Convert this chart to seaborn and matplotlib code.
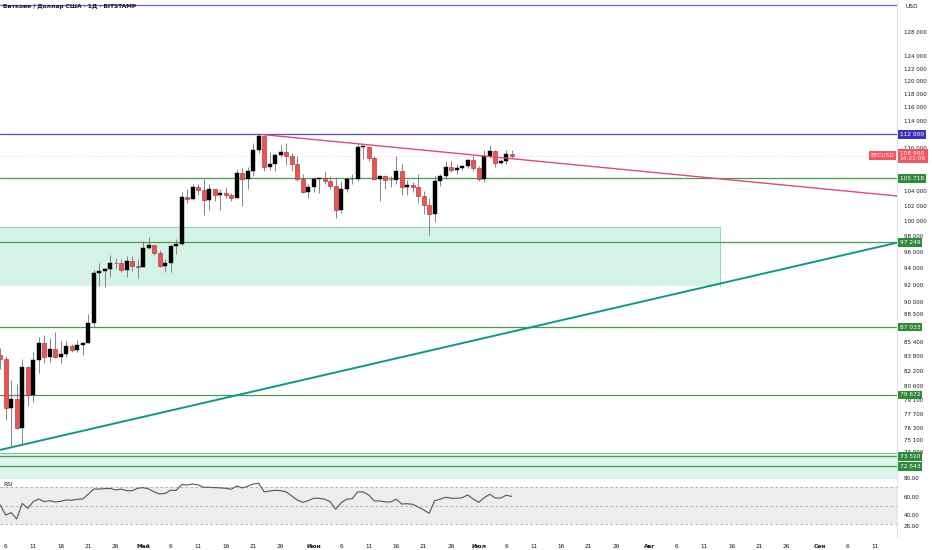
import numpy as np
import pandas as pd
import matplotlib
matplotlib.use("Agg")
import matplotlib.pyplot as plt
import matplotlib.dates as mdates
from matplotlib.ticker import FixedLocator, NullLocator, FuncFormatter
import seaborn as sns

# --- DATA: BTCUSD daily candles, Bitstamp (5 Apr - 7 Jul 2025) ---
dates = pd.date_range("2025-04-05", "2025-07-07", freq="D")
opens = [83900, 83500, 78300, 79200, 76300, 82600, 79600, 83400, 85300, 83700,
         84600, 83700, 84000, 84900, 84450, 85050, 85200, 87500, 93400, 93700,
         93950, 94700, 94600, 93800, 94950, 94300,
         94200, 96500, 96900, 95900, 94300, 94700, 96800, 97000, 103200, 102900,
         104600, 104100, 102800, 104200, 103500, 103700, 103500, 103100, 106500, 105600,
         106800, 109700, 111700, 107300, 107800, 109000, 109400, 108900, 107800, 105600,
         103900,
         104600, 105700, 105800, 105400, 104700, 101500, 104300, 105600, 105700, 110200,
         110200, 108600, 105700, 106100, 105500, 105500, 106800, 104600, 104800, 104600,
         103300, 102100, 100900, 105400, 106000, 107300, 106900, 107100, 107400, 108300,
         107100, 105700, 108800, 109600, 107900, 108200, 109200]
highs = [84700, 83800, 81200, 80800, 83500, 82700, 84300, 85900, 86100, 85800,
         86500, 85500, 85500, 85100, 85600, 85350, 88500, 93800, 94600, 94000,
         95700, 95300, 95200, 95500, 95500, 95200,
         97400, 97900, 96900, 96300, 95200, 96900, 97700, 103800, 104300, 104900,
         104900, 105700, 104900, 104300, 104200, 104500, 103700, 107000, 107100, 107300,
         110800, 112000, 111900, 109500, 109300, 110400, 110700, 109300, 108900, 106300,
         104900,
         105900, 105900, 106800, 106000, 105900, 105300, 105900, 106400, 110600, 110400,
         110300, 108900, 106200, 106200, 106100, 108900, 107700, 105500, 105200, 106300,
         104000, 103000, 106000, 106300, 108100, 108200, 107800, 107600, 108500, 108800,
         107500, 109700, 110500, 109700, 108400, 109700, 109700]
lows = [82400, 77100, 74500, 76200, 74600, 78500, 78900, 82000, 83000, 83200,
        83600, 83100, 83700, 84300, 84300, 83900, 85200, 87000, 91900, 91700,
        92900, 93900, 93600, 92900, 93700, 92800,
        94100, 96400, 95700, 94100, 93500, 93600, 95800, 96900, 102400, 102800,
        103400, 100800, 101500, 102600, 101400, 103100, 102600, 103000, 102000, 104200,
        106100, 109300, 106800, 106900, 106700, 108700, 107600, 106800, 105400, 103700,
        103100,
        103900, 103700, 104900, 104200, 100400, 101100, 103900, 104900, 105300, 108400,
        108200, 105500, 102700, 104300, 104500, 104900, 103400, 103500, 103900, 102400,
        100900, 98200, 99800, 104700, 105600, 106600, 106400, 106900, 107200, 106700,
        105300, 105200, 108600, 107300, 107800, 107800, 108600]
closes = [83500, 78300, 79200, 76300, 82600, 79600, 83400, 85300, 83700, 84600,
          83700, 84000, 84900, 84450, 85050, 85200, 87500, 93400, 93700, 93950,
          94700, 94600, 93800, 94950, 94300, 94200,
          96500, 96900, 95900, 94300, 94700, 96800, 97000, 103200, 102900, 104600,
          104100, 102800, 104200, 103500, 103700, 103500, 103100, 106500, 105600, 106800,
          109700, 111700, 107300, 107800, 109000, 109400, 108900, 107800, 105600, 103900,
          104600,
          105700, 105800, 105400, 104700, 101500, 104300, 105600, 105700, 110200, 110200,
          108600, 105700, 106100, 105500, 105500, 106800, 104600, 104800, 104600, 103300,
          102100, 100900, 105400, 106000, 107300, 106900, 107100, 107400, 108300, 107100,
          105700, 108800, 109600, 107900, 108200, 109200, 108900]

# RSI(14)
rsi = [50.7, 39.8, 42.3, 35.4, 52.5, 47.0, 54.3, 57.2, 54.3, 55.4,
       54.0, 54.7, 56.2, 55.8, 56.9, 57.2, 62.4, 68.1, 68.1, 68.5,
       68.8, 67.0, 68.0, 66.3, 66.3, 68.9,
       69.6, 68.1, 64.9, 62.7, 63.4, 66.7, 66.7, 72.9, 72.5, 73.6,
       72.5, 70.0, 70.0, 69.6, 69.3, 68.9, 67.8, 71.4, 69.3, 71.0,
       73.6, 74.3, 64.9, 65.9, 66.7, 66.3, 64.9, 60.5, 56.2, 53.6,
       55.4,
       58.0, 58.0, 57.0, 54.3, 46.0, 53.2, 57.0, 57.6, 64.9, 64.9,
       61.6, 55.1, 55.1, 54.0, 54.0, 57.0, 51.8, 52.1, 51.4, 48.5,
       45.3, 41.6, 55.4, 57.0, 59.1, 58.0, 58.0, 58.7, 61.6, 57.2,
       53.6, 58.7, 62.4, 58.3, 58.3, 61.3, 60.1]

# drawn levels
green_levels = [105718, 97249, 87033, 79672, 73510, 72543]
purple_level = 112000
top_level = 132600
last_price = 108900
last_time = "14:21:06"

# trend lines (dates, prices)
pink_dates = ["2025-05-22 19:00", "2025-09-16 00:00"]
pink_prices = [111950, 103250]
teal_dates = ["2025-04-04 23:00", "2025-09-16 00:00"]
teal_prices = [74130, 97350]

# demand zone
zone_dates = ["2025-04-01 00:00", "2025-08-13 21:00"]
zone_low, zone_high = 91850, 99220
band_low, band_high = 70000, 73850

price_ticks = [128000, 124000, 122000, 120000, 118000, 116000, 114000, 110000,
               104000, 102000, 100000, 98000, 96000, 94000, 92000, 90000, 88500,
               85400, 83800, 82200, 80600, 79100, 77700, 76300, 75100, 73900]
rsi_ticks = [80, 60, 40, 28]

tick_dates = ["2025-04-06", "2025-04-11", "2025-04-16", "2025-04-21", "2025-04-26",
              "2025-05-01", "2025-05-06", "2025-05-11", "2025-05-16", "2025-05-21",
              "2025-05-26", "2025-06-01", "2025-06-06", "2025-06-11", "2025-06-16",
              "2025-06-21", "2025-06-26", "2025-07-01", "2025-07-06", "2025-07-11",
              "2025-07-16", "2025-07-21", "2025-07-26", "2025-08-01", "2025-08-06",
              "2025-08-11", "2025-08-16", "2025-08-21", "2025-08-26", "2025-09-01",
              "2025-09-06", "2025-09-11"]
tick_labels = ["6", "11", "16", "21", "26", "Май", "6", "11", "16", "21", "26",
               "Июн", "6", "11", "16", "21", "26", "Июл", "6", "11", "16", "21", "26",
               "Авг", "6", "11", "16", "21", "26", "Сен", "6", "11"]
month_labels = {"Май", "Июн", "Июл", "Авг", "Сен"}

# --- STYLE ---
sns.set_theme(style="white")
plt.rcParams["font.family"] = ["DejaVu Sans"]
TXT = "#131722"
GREEN = "#4a9b4e"
GREEN_BOX = "#2e8b3a"
PURPLE = "#3f32b8"
RED = "#f23645"
TEAL = "#0b9a8a"
PINK = "#e0487c"
ZONE = "#d5f2e7"

W, H = 932, 550
fig = plt.figure(figsize=(W / 100, H / 100), dpi=100)
ax = fig.add_axes([0, 1 - 478 / H, 897 / W, 478 / H])
ax_rsi = fig.add_axes([0, 1 - 537 / H, 897 / W, 59 / H], sharex=ax)

to_num = lambda lst: mdates.date2num(pd.to_datetime(lst, format="ISO8601"))
x = mdates.date2num(dates)
base = mdates.date2num(pd.Timestamp("2025-04-06"))
xlim = (base - 1.036, base + 162.05)

# --- PRICE PANE ---
ax.set_yscale("log")
ax.set_ylim(71460, 133490)
ax.set_xlim(*xlim)

zx = to_num(zone_dates)
ax.fill_between(zx, zone_low, zone_high, color=ZONE, lw=0, zorder=0)
ax.plot([zx[1], zx[1]], [zone_low, zone_high], color="#7fd3bd", lw=0.6, zorder=1)
ax.plot(zx, [zone_high, zone_high], color="#7fd3bd", lw=0.6, zorder=1)
ax.axhspan(band_low, band_high, color="#dcf5ec", lw=0, zorder=0)
ax.axhline(band_high, color="#6fbfae", lw=0.7, zorder=1)

for lvl in green_levels:
    ax.axhline(lvl, color=GREEN, lw=0.9)
ax.axhline(purple_level, color="#5a4cc8", lw=0.9)
ax.axhline(top_level, color="#6a5fd0", lw=0.9)
ax.axhline(last_price, color=RED, lw=0.5, ls=(0, (1, 2)), alpha=0.35)

# candles
o, hi, lo, c = map(np.array, (opens, highs, lows, closes))
up = c >= o
ax.vlines(x, lo, hi, color="#6f737e", lw=0.6, zorder=3)
body_lo = np.minimum(o, c)
body_hi = np.maximum(o, c)
body_h = np.maximum(body_hi - body_lo, 60)
ax.bar(x[up], body_h[up], bottom=body_lo[up], width=0.72, color="#000000",
       edgecolor="#000000", lw=0.3, zorder=4)
ax.bar(x[~up], body_h[~up], bottom=body_lo[~up], width=0.72, color="#ef5350",
       edgecolor="#a32a2a", lw=0.4, zorder=4)

# trend lines
trend = pd.DataFrame({
    "x": np.concatenate([to_num(pink_dates), to_num(teal_dates)]),
    "price": pink_prices + teal_prices,
    "line": ["pink", "pink", "teal", "teal"],
})
sns.lineplot(data=trend, x="x", y="price", hue="line",
             palette={"pink": PINK, "teal": TEAL}, ax=ax, legend=False,
             estimator=None, sort=False, zorder=5)
ax.lines[-1].set_linewidth(1.4)
ax.lines[-2].set_linewidth(1.0)

# right price scale
fmt = lambda v: f"{v:,.0f}".replace(",", " ")
ax.yaxis.tick_right()
ax.yaxis.set_major_locator(FixedLocator(price_ticks))
ax.yaxis.set_minor_locator(NullLocator())
ax.yaxis.set_major_formatter(FuncFormatter(lambda v, p: fmt(v)))
ax.tick_params(axis="y", length=0, labelsize=4.0, labelcolor=TXT, pad=5)
ax.tick_params(axis="x", bottom=False, labelbottom=False)
ax.set_xlabel("")
ax.set_ylabel("")
for s in ["top", "left", "bottom"]:
    ax.spines[s].set_visible(False)
ax.spines["right"].set_color("#e0e3eb")
ax.spines["right"].set_linewidth(0.8)

trans = ax.get_yaxis_transform()
box = dict(boxstyle="square,pad=0.3", lw=0)
for lvl in green_levels:
    ax.text(1.003, lvl, fmt(lvl), transform=trans, fontsize=4.2, color="white",
            va="center", ha="left", clip_on=False, zorder=10,
            bbox={**box, "fc": GREEN_BOX})
ax.text(1.003, purple_level, fmt(purple_level), transform=trans, fontsize=4.2,
        color="white", va="center", ha="left", clip_on=False, zorder=10,
        bbox={**box, "fc": PURPLE})
ax.text(1.003, last_price, fmt(last_price) + "\n" + last_time, transform=trans,
        fontsize=4.2, color="white", va="center", ha="left", clip_on=False,
        linespacing=1.1, zorder=10, bbox={**box, "fc": "#f7525f"})
ax.text(0.997, last_price * 1.0006, "BTCUSD", transform=trans, fontsize=4.2,
        color="white", va="center", ha="right", zorder=10,
        bbox={**box, "fc": "#f7525f"})

fig.text(3 / W, 1 - 6 / H, "Биткоин / Доллар США · 1Д · BITSTAMP", fontsize=4.2,
         color=TXT, fontweight="bold", va="center", ha="left")
fig.text(905 / W, 1 - 7 / H, "USD", fontsize=4.2, color=TXT, va="center", ha="left")

# --- RSI PANE ---
ax_rsi.set_ylim(15.8, 80.1)
ax_rsi.axhspan(30, 70, color="#ededed", lw=0)
for lvl in (70, 50, 30):
    ax_rsi.axhline(lvl, color="#a8a8a8", lw=0.6, ls=(0, (3, 3)))
sns.lineplot(x=x, y=rsi, ax=ax_rsi, color="#555555", lw=0.8)
ax_rsi.yaxis.tick_right()
ax_rsi.yaxis.set_major_locator(FixedLocator(rsi_ticks))
ax_rsi.yaxis.set_major_formatter(FuncFormatter(lambda v, p: f"{v:.2f}".replace(".", ",")))
ax_rsi.tick_params(axis="y", length=0, labelsize=4.0, labelcolor=TXT, pad=5)
ax_rsi.text(3 / 897, 0.93, "RSI", transform=ax_rsi.transAxes, fontsize=4.2,
            color=TXT, va="top", ha="left")
for s in ["left", "bottom"]:
    ax_rsi.spines[s].set_visible(False)
for s in ["top", "right"]:
    ax_rsi.spines[s].set_color("#e0e3eb")
    ax_rsi.spines[s].set_linewidth(0.8)
ax_rsi.set_ylabel("")

ax_rsi.xaxis.set_major_locator(FixedLocator(to_num(tick_dates)))
ax_rsi.set_xticklabels(tick_labels)
ax_rsi.tick_params(axis="x", length=0, labelsize=4.2, labelcolor=TXT, pad=5)
for lab in ax_rsi.get_xticklabels():
    if lab.get_text() in month_labels:
        lab.set_fontweight("bold")
ax_rsi.set_xlim(*xlim)

fig.savefig("out.png", dpi=100)
